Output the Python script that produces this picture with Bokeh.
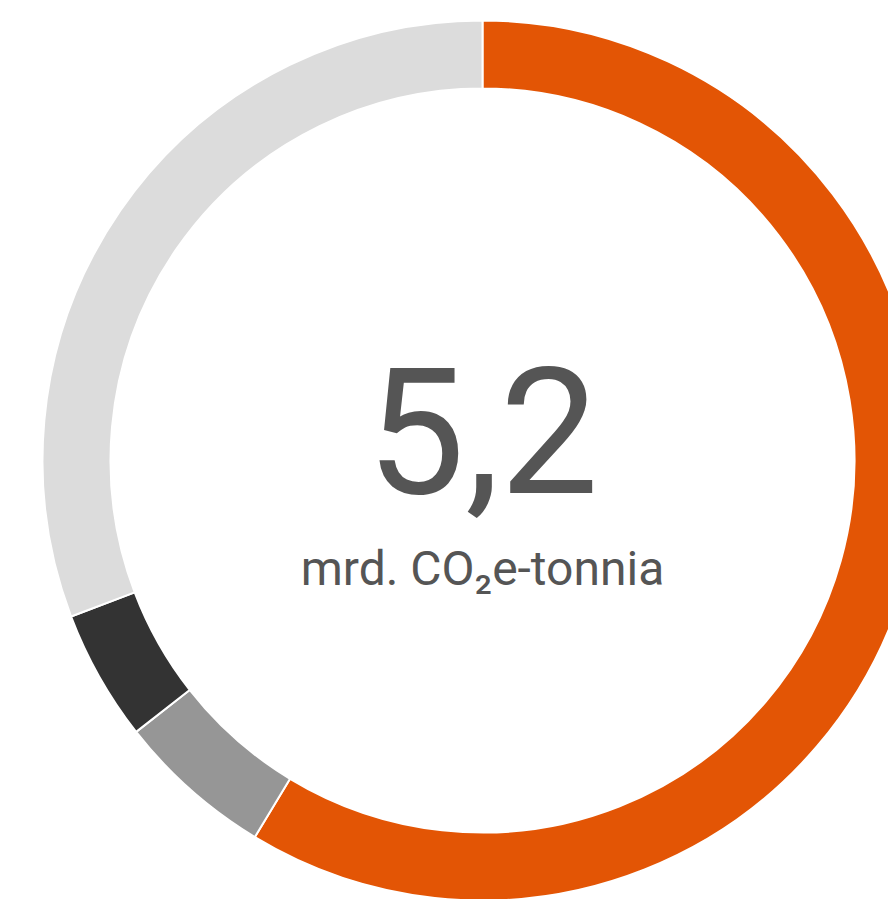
import math
from bokeh.plotting import figure
from bokeh.models import Range1d, ColumnDataSource
from bokeh.core.properties import value
from bokeh.embed import file_html
from bokeh.resources import INLINE

# Data (mrd. CO2e-tonnia), clockwise from 12 o'clock
categories = ["A", "B", "C", "D"]
values = [3.05, 0.30, 0.25, 1.60]
colors = ["#E35505", "#969696", "#333333", "#DCDCDC"]
total_label = "5,2"
unit_label = "mrd. CO\u2082e-tonnia"

W, H = 888, 899
CX, CY = 482, 460  # donut centre in figure pixels (from top-left)

total = sum(values)
starts, ends = [], []
cum = 0.0
for v in values:
    starts.append(math.pi / 2 - 2 * math.pi * cum / total)
    cum += v
    ends.append(math.pi / 2 - 2 * math.pi * cum / total)

src = ColumnDataSource(dict(cat=categories, val=values, color=colors,
                            start=starts, end=ends))

p = figure(width=W, height=H, output_backend="svg", toolbar_location=None,
           x_range=Range1d(-CX, W - CX), y_range=Range1d(-(H - CY), CY),
           min_border=0)
p.axis.visible = False
p.grid.visible = False
p.outline_line_color = None
p.background_fill_color = "white"
p.border_fill_color = "white"

p.annular_wedge(x=0, y=0, inner_radius=372, outer_radius=440,
                start_angle="start", end_angle="end", direction="clock",
                fill_color="color", line_color="white", line_width=2,
                source=src)

p.text(x=[0], y=[31], text=[total_label], text_align="center",
       text_baseline="middle", text_font=value("Roboto"),
       text_font_size="176px", text_color="#555555")
p.text(x=[0], y=[-108], text=[unit_label], text_align="center",
       text_baseline="middle", text_font=value("Roboto"),
       text_font_size="48px", text_color="#555555")

open("out.html", "w").write(file_html(p, INLINE))
